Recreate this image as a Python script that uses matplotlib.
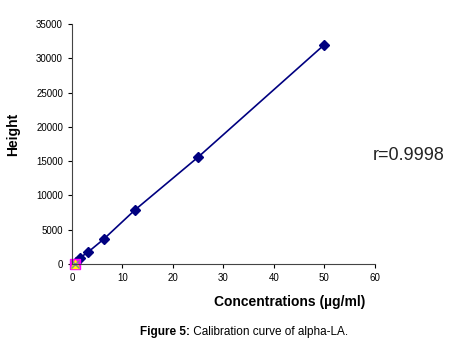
import numpy as np
import matplotlib.pyplot as plt

plt.rcParams['font.family'] = ['Liberation Sans', 'DejaVu Sans']

# Calibration data
conc = [0.78, 1.56, 3.125, 6.25, 12.5, 25, 50]
height = [300, 900, 1700, 3600, 7900, 15600, 32000]

# stray Excel series sitting at the origin
blank_x = [0.6]
blank_y = [0]

x_ticks = [0, 10, 20, 30, 40, 50, 60]
y_ticks = [0, 5000, 10000, 15000, 20000, 25000, 30000, 35000]

fig = plt.figure(figsize=(4.6, 3.49), dpi=100, facecolor='white')
ax = fig.add_axes([0.1565, 0.2436, 0.6585, 0.6875])

ax.plot(conc, height, '-', color='#000080', lw=1.2)
ax.plot(conc, height, 'D', color='#000080', markersize=5, clip_on=False)
ax.plot(blank_x, blank_y, 's', color='#ff00ff', markersize=7.5, clip_on=False)
ax.plot(blank_x, blank_y, '^', color='#ffff00', markersize=6, clip_on=False)
ax.plot(blank_x, blank_y, 'x', color='#8080a0', markersize=6, mew=1, clip_on=False)

ax.set_xlim(0, 60)
ax.set_ylim(0, 35000)
ax.set_xticks(x_ticks)
ax.set_yticks(y_ticks)
ax.tick_params(labelsize=7, length=3, width=0.8, direction='out', colors='black')

for s in ['top', 'right']:
    ax.spines[s].set_visible(False)
for s in ['left', 'bottom']:
    ax.spines[s].set_linewidth(0.8)
    ax.spines[s].set_color('#444444')

ax.set_ylabel('Height', fontsize=10, fontweight='bold')
ax.yaxis.set_label_coords(-0.17, 0.54)
fig.text(0.63, 0.135, 'Concentrations (\u00b5g/ml)', fontsize=10, fontweight='bold',
         ha='center', va='center')

fig.text(0.81, 0.555, 'r=0.9998', fontsize=13, ha='left', va='center', color='#222222')

t1 = fig.text(0.305, 0.05, 'Figure 5:', fontsize=8.5, fontweight='bold', ha='left', va='center')
ax.annotate(' Calibration curve of alpha-LA.', xy=(1, 0), xycoords=t1, fontsize=8.5,
            ha='left', va='bottom', annotation_clip=False)

fig.savefig('out.png', dpi=100, facecolor='white')
